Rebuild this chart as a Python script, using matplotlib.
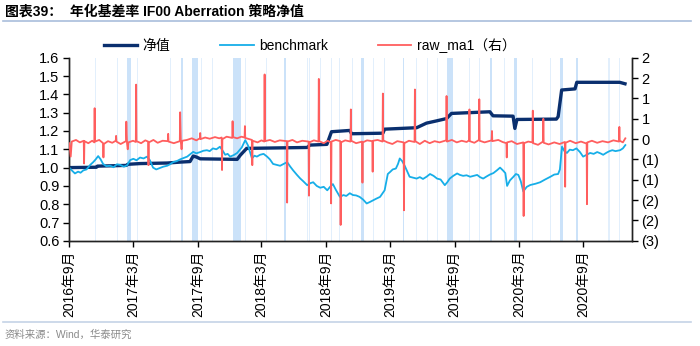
import matplotlib
matplotlib.use("Agg")
import matplotlib.pyplot as plt
import matplotlib.dates as mdates
from matplotlib.ticker import FuncFormatter, FixedLocator
import pandas as pd
import numpy as np

CJK = ['Liberation Sans', 'Noto Sans CJK SC']
plt.rcParams['font.family'] = CJK

title_text = "图表39：  年化基差率 IF00 Aberration 策略净值"
source_text = "资料来源：Wind，华泰研究"
series_names = ["净值", "benchmark", "raw_ma1（右）"]

# 净值 (left axis)
navy_dates = ['2016-09-01', '2016-11-17', '2016-11-20', '2017-02-10', '2017-02-14', '2017-03-21',
              '2017-06-06', '2017-07-13', '2017-08-10', '2017-08-19', '2017-08-28', '2017-09-08',
              '2017-12-22', '2017-12-31', '2018-01-18', '2018-07-09', '2018-07-17', '2018-09-03',
              '2018-09-16', '2018-11-07', '2018-11-12', '2019-02-09', '2019-02-14', '2019-05-16',
              '2019-06-13', '2019-07-11', '2019-08-09', '2019-08-23', '2019-12-10', '2019-12-19',
              '2020-02-14', '2020-02-19', '2020-02-25', '2020-06-16', '2020-06-21', '2020-07-01',
              '2020-08-08', '2020-08-13', '2020-12-13', '2020-12-28']
navy_values = [1.000, 1.002, 1.008, 1.012, 1.018, 1.022,
               1.025, 1.030, 1.033, 1.063, 1.058, 1.048,
               1.045, 1.068, 1.105, 1.110, 1.123, 1.127,
               1.196, 1.203, 1.185, 1.188, 1.210, 1.218,
               1.243, 1.255, 1.268, 1.296, 1.305, 1.283,
               1.281, 1.214, 1.263, 1.265, 1.278, 1.424,
               1.430, 1.466, 1.466, 1.458]

# benchmark (left axis)
bench_dates = ['2016-09-01', '2016-09-08', '2016-09-17', '2016-09-26', '2016-10-03', '2016-10-11', '2016-10-20',
               '2016-10-30', '2016-11-08', '2016-11-15', '2016-11-22', '2016-11-29', '2016-12-06', '2016-12-15',
               '2016-12-26', '2017-01-05', '2017-01-14', '2017-01-23', '2017-02-03', '2017-02-12', '2017-02-21',
               '2017-03-02', '2017-03-11', '2017-03-21', '2017-03-31', '2017-04-10', '2017-04-18', '2017-04-27',
               '2017-05-06', '2017-05-17', '2017-05-26', '2017-06-06', '2017-06-14', '2017-06-23', '2017-07-03',
               '2017-07-13', '2017-07-22', '2017-08-02', '2017-08-10', '2017-08-19', '2017-08-28', '2017-09-08',
               '2017-09-17', '2017-09-27', '2017-10-05', '2017-10-14', '2017-10-24', '2017-11-03', '2017-11-10',
               '2017-11-18', '2017-11-25', '2017-12-02', '2017-12-12', '2017-12-22', '2018-01-04', '2018-01-14',
               '2018-01-22', '2018-02-02', '2018-02-09', '2018-02-16', '2018-02-25', '2018-03-07', '2018-03-17',
               '2018-03-25', '2018-04-03', '2018-04-13', '2018-04-23', '2018-05-03', '2018-05-13', '2018-05-22',
               '2018-05-30', '2018-06-10', '2018-06-19', '2018-06-28', '2018-07-09', '2018-07-18', '2018-07-26',
               '2018-08-05', '2018-08-15', '2018-08-25', '2018-09-04', '2018-09-12', '2018-09-20', '2018-09-28',
               '2018-10-10', '2018-10-20', '2018-10-28', '2018-11-07', '2018-11-16', '2018-11-25', '2018-12-05',
               '2018-12-15', '2018-12-25', '2019-01-03', '2019-01-11', '2019-01-21', '2019-02-01', '2019-02-14',
               '2019-02-23', '2019-03-02', '2019-03-09', '2019-03-18', '2019-03-24', '2019-03-29', '2019-04-05',
               '2019-04-12', '2019-04-26', '2019-05-06', '2019-05-16', '2019-05-25', '2019-06-03', '2019-06-13',
               '2019-06-23', '2019-07-03', '2019-07-13', '2019-07-23', '2019-08-04', '2019-08-11', '2019-08-18',
               '2019-08-28', '2019-09-08', '2019-09-16', '2019-09-25', '2019-10-05', '2019-10-15', '2019-10-25',
               '2019-11-04', '2019-11-12', '2019-11-21', '2019-12-01', '2019-12-10', '2019-12-20', '2019-12-30',
               '2020-01-08', '2020-01-16', '2020-01-23', '2020-01-28', '2020-02-05', '2020-02-15', '2020-02-22',
               '2020-02-29', '2020-03-07', '2020-03-14', '2020-03-24', '2020-04-03', '2020-04-18', '2020-05-01',
               '2020-05-15', '2020-05-30', '2020-06-10', '2020-06-21', '2020-06-26', '2020-07-02', '2020-07-09',
               '2020-07-16', '2020-07-24', '2020-08-02', '2020-08-12', '2020-08-22', '2020-08-31', '2020-09-10',
               '2020-09-20', '2020-09-30', '2020-10-10', '2020-10-19', '2020-10-27', '2020-11-06', '2020-11-14',
               '2020-11-22', '2020-12-01', '2020-12-14', '2020-12-22', '2020-12-29']
bench_values = [1.000, 0.985, 0.968, 0.978, 0.972, 0.985, 0.990,
                1.014, 1.030, 1.045, 1.063, 1.045, 1.020, 1.008,
                1.010, 1.002, 1.018, 1.015, 1.005, 1.012, 1.041,
                1.048, 1.040, 1.055, 1.050, 1.060, 1.040, 1.000,
                0.990, 0.998, 1.005, 1.010, 1.018, 1.030, 1.035,
                1.045, 1.052, 1.060, 1.072, 1.086, 1.078, 1.085,
                1.092, 1.095, 1.090, 1.105, 1.100, 1.114, 1.095,
                1.070, 1.075, 1.060, 1.068, 1.080, 1.110, 1.150,
                1.120, 1.050, 1.065, 1.060, 1.070, 1.075, 1.060,
                1.045, 1.020, 1.015, 1.010, 1.020, 1.030, 1.005,
                0.985, 0.960, 0.941, 0.925, 0.904, 0.915, 0.920,
                0.900, 0.890, 0.895, 0.876, 0.895, 0.910, 0.880,
                0.840, 0.850, 0.845, 0.860, 0.850, 0.848, 0.840,
                0.825, 0.804, 0.812, 0.820, 0.830, 0.840, 0.876,
                0.965, 0.977, 0.990, 0.995, 1.020, 1.050, 1.035,
                1.010, 0.950, 0.945, 0.940, 0.948, 0.938, 0.950,
                0.965, 0.955, 0.940, 0.935, 0.904, 0.920, 0.940,
                0.955, 0.968, 0.960, 0.955, 0.958, 0.950, 0.955,
                0.960, 0.948, 0.940, 0.952, 0.962, 0.970, 0.985,
                1.000, 0.985, 0.970, 0.900, 0.930, 0.950, 0.965,
                0.960, 0.925, 0.870, 0.895, 0.905, 0.912, 0.920,
                0.935, 0.950, 0.962, 0.965, 0.990, 1.114, 1.090,
                1.080, 1.098, 1.095, 1.105, 1.085, 1.060, 1.070,
                1.080, 1.075, 1.085, 1.078, 1.070, 1.082, 1.090,
                1.095, 1.090, 1.095, 1.105, 1.123]

# raw_ma1 (right axis)
red_dates = ['2016-09-01', '2016-09-05', '2016-09-08', '2016-09-20', '2016-10-01', '2016-10-12', '2016-10-13', '2016-10-14',
             '2016-10-25', '2016-11-05', '2016-11-11', '2016-11-12', '2016-11-13', '2016-11-25', '2016-12-06', '2016-12-07',
             '2016-12-08', '2016-12-20', '2017-01-01', '2017-01-11', '2017-01-12', '2017-01-13', '2017-01-25', '2017-02-09',
             '2017-02-10', '2017-02-12', '2017-02-14', '2017-02-16', '2017-03-01', '2017-03-09', '2017-03-10', '2017-03-11',
             '2017-03-24', '2017-04-05', '2017-04-13', '2017-04-14', '2017-04-15', '2017-04-28', '2017-05-10', '2017-05-24',
             '2017-06-08', '2017-06-09', '2017-06-10', '2017-06-25', '2017-07-12', '2017-07-13', '2017-07-15', '2017-07-17',
             '2017-07-19', '2017-08-01', '2017-08-15', '2017-08-28', '2017-09-07', '2017-09-08', '2017-09-09', '2017-09-22',
             '2017-10-05', '2017-10-20', '2017-11-01', '2017-11-08', '2017-11-09', '2017-11-10', '2017-11-22', '2017-12-08',
             '2017-12-09', '2017-12-10', '2017-12-22', '2018-01-03', '2018-01-12', '2018-01-13', '2018-01-14', '2018-01-25',
             '2018-02-02', '2018-02-03', '2018-02-04', '2018-02-18', '2018-03-01', '2018-03-09', '2018-03-10', '2018-03-11',
             '2018-03-25', '2018-04-08', '2018-04-22', '2018-05-12', '2018-05-13', '2018-05-14', '2018-05-28', '2018-06-10',
             '2018-06-25', '2018-07-13', '2018-07-14', '2018-07-15', '2018-07-28', '2018-08-10', '2018-08-11', '2018-08-12',
             '2018-08-25', '2018-09-05', '2018-09-14', '2018-09-15', '2018-09-16', '2018-09-28', '2018-10-11', '2018-10-12',
             '2018-10-13', '2018-10-25', '2018-11-09', '2018-11-10', '2018-11-11', '2018-11-25', '2018-12-12', '2018-12-13',
             '2018-12-14', '2018-12-26', '2019-01-10', '2019-01-11', '2019-01-12', '2019-01-25', '2019-02-08', '2019-02-09',
             '2019-02-10', '2019-02-22', '2019-03-08', '2019-03-22', '2019-04-09', '2019-04-10', '2019-04-11', '2019-04-24',
             '2019-05-10', '2019-05-11', '2019-05-12', '2019-05-25', '2019-06-08', '2019-06-22', '2019-07-06', '2019-07-20',
             '2019-08-08', '2019-08-09', '2019-08-10', '2019-08-24', '2019-09-07', '2019-09-21', '2019-10-05', '2019-10-12',
             '2019-10-13', '2019-10-14', '2019-10-27', '2019-11-09', '2019-11-10', '2019-11-11', '2019-11-25', '2019-12-15',
             '2019-12-16', '2019-12-17', '2020-01-03', '2020-01-15', '2020-01-26', '2020-01-27', '2020-01-28', '2020-02-10',
             '2020-02-25', '2020-03-14', '2020-03-15', '2020-03-16', '2020-03-28', '2020-04-09', '2020-04-10', '2020-04-11',
             '2020-04-25', '2020-05-09', '2020-05-10', '2020-05-11', '2020-05-25', '2020-06-10', '2020-06-25', '2020-07-10',
             '2020-07-11', '2020-07-12', '2020-07-25', '2020-08-10', '2020-08-25', '2020-09-10', '2020-09-11', '2020-09-12',
             '2020-09-25', '2020-10-10', '2020-10-25', '2020-11-10', '2020-11-25', '2020-12-11', '2020-12-12', '2020-12-13',
             '2020-12-22', '2020-12-29']
red_values = [-0.10, -0.43, -0.06, -0.02, -0.08, -0.04, -0.60, -0.05,
              -0.10, -0.04, -0.08, 0.76, -0.06, -0.02, -0.10, -0.45,
              -0.12, -0.05, -0.09, -0.04, 0.08, -0.06, -0.12, -0.05,
              0.43, -0.10, -0.25, -0.08, -0.04, -0.07, 1.34, -0.05,
              -0.10, -0.03, -0.06, -0.64, -0.08, -0.02, -0.09, -0.04,
              -0.05, 0.13, -0.06, -0.10, -0.05, 0.66, -0.08, -0.25,
              -0.04, -0.02, 0.02, -0.03, 0.02, 0.15, 0.00, 0.04,
              0.01, 0.05, 0.02, 0.04, -0.76, 0.00, 0.06, 0.03,
              0.44, 0.05, 0.02, 0.06, 0.04, 0.32, 0.03, 0.00,
              -0.02, -0.64, -0.04, -0.08, -0.03, -0.06, 1.59, -0.05,
              -0.02, -0.07, -0.03, -0.05, -1.56, -0.06, -0.02, -0.08,
              -0.04, -0.06, -1.39, -0.08, -0.03, -0.06, 1.48, -0.05,
              -0.10, -0.04, -0.08, -1.58, -0.06, -0.02, -0.05, -2.11,
              -0.08, -0.03, -0.06, 0.73, -0.04, -0.10, -0.06, -1.07,
              -0.08, -0.03, -0.05, -0.80, -0.04, -0.02, -0.06, 1.12,
              -0.03, -0.08, -0.12, -0.05, -0.08, -1.75, -0.10, -0.04,
              -0.07, 1.22, -0.05, -0.12, -0.04, -0.10, -0.05, -0.08,
              -0.03, 1.06, -0.06, -0.02, -0.08, -0.04, -0.07, -0.03,
              0.73, -0.05, -0.09, -0.02, 0.98, -0.04, -0.08, -0.03,
              0.20, -0.05, -0.02, -0.07, -0.10, -0.45, -0.08, -0.05,
              -0.12, -0.08, -1.89, -0.10, -0.06, -0.08, 0.70, -0.10,
              -0.14, -0.06, 0.50, -0.09, -0.13, -0.08, -0.12, -0.07,
              -1.17, -0.09, -0.04, -0.10, -0.06, -0.11, -1.60, -0.08,
              -0.04, -0.09, -0.05, -0.08, -0.03, -0.06, 0.30, -0.04,
              -0.08, 0.02]

# shaded periods
band_start = ['2016-11-13', '2017-01-14', '2017-02-13', '2017-03-11', '2017-06-13', '2017-07-15',
              '2017-08-15', '2017-09-10', '2017-10-11', '2017-12-09', '2018-01-13', '2018-03-14',
              '2018-05-05', '2018-07-08', '2018-07-15', '2018-08-13', '2018-09-15', '2018-10-06',
              '2018-11-13', '2018-12-09', '2019-01-13', '2019-02-11', '2019-04-06', '2019-05-14',
              '2019-06-14', '2019-07-12', '2019-08-11', '2019-10-13', '2019-11-10', '2019-12-11',
              '2020-01-18', '2020-02-18', '2020-04-07', '2020-05-29', '2020-06-27', '2020-08-10',
              '2020-11-11', '2020-12-12']
band_end = ['2016-11-16', '2017-01-17', '2017-02-23', '2017-03-14', '2017-06-16', '2017-07-20',
            '2017-09-03', '2017-09-13', '2017-10-14', '2018-01-02', '2018-01-16', '2018-03-17',
            '2018-05-11', '2018-07-11', '2018-07-18', '2018-08-16', '2018-09-18', '2018-10-09',
            '2018-11-16', '2018-12-16', '2019-01-16', '2019-02-14', '2019-04-11', '2019-05-17',
            '2019-06-17', '2019-07-15', '2019-08-27', '2019-10-16', '2019-11-13', '2019-12-17',
            '2020-01-21', '2020-02-25', '2020-04-10', '2020-06-01', '2020-07-06', '2020-08-17',
            '2020-11-14', '2020-12-15']

x_start = '2016-09-01'
x_end = '2021-01-16'

fig = plt.figure(figsize=(7.0, 3.46), dpi=100)
ax = fig.add_axes([0.099, 0.304, 0.8034, 0.529])
ax2 = ax.twinx()

for s, e in zip(band_start, band_end):
    s_t, e_t = pd.Timestamp(s), pd.Timestamp(e)
    col = '#e2effc' if (e_t - s_t).days <= 3 else '#cbe2f9'
    ax.axvspan(s_t, e_t, color=col, lw=0, zorder=0)

l1, = ax.plot(pd.to_datetime(navy_dates), navy_values, color='#0a2f6e', lw=2.4,
              solid_joinstyle='round', zorder=3)
l2, = ax.plot(pd.to_datetime(bench_dates), bench_values, color='#16aee8', lw=1.3, zorder=4)
l3, = ax2.plot(pd.to_datetime(red_dates), red_values, color='#ff5e5e', lw=1.3, zorder=5)

ax.set_ylim(0.6, 1.6)
ax.set_yticks(np.arange(0.6, 1.61, 0.1))
ax.yaxis.set_major_formatter(FuncFormatter(lambda v, p: f"{v:.1f}"))
ax2.set_ylim(-2.5, 2.0)
ax2.yaxis.set_major_locator(FixedLocator(np.arange(-2.5, 2.01, 0.5)))

def rfmt(v, p):
    n = int(abs(v) + 0.5)
    return f"({n})" if v < -1e-9 else f"{n}"
ax2.yaxis.set_major_formatter(FuncFormatter(rfmt))

ax.set_xlim(pd.Timestamp(x_start), pd.Timestamp(x_end))
ax.xaxis.set_major_locator(mdates.MonthLocator(bymonth=[3, 9]))
ax.xaxis.set_major_formatter(FuncFormatter(
    lambda v, p: f"{mdates.num2date(v).year}年{mdates.num2date(v).month}月"))
ax.tick_params(axis='x', labelrotation=90, labelsize=10, length=4, width=1, direction='out', pad=3)
ax.tick_params(axis='y', labelsize=10.5, length=4, width=1, direction='out', pad=3)
ax2.tick_params(axis='y', labelsize=10.5, length=4, width=1, direction='out', pad=3)

for a in (ax, ax2):
    a.spines['top'].set_visible(False)
    for sp in ('left', 'right', 'bottom'):
        a.spines[sp].set_color('#222222')
        a.spines[sp].set_linewidth(1.0)
ax.patch.set_visible(False)
ax2.patch.set_visible(False)

leg = fig.legend([l1, l2, l3], series_names, loc='center left',
                 bbox_to_anchor=(0.148, 0.868), ncol=3, frameon=False,
                 handlelength=2.4, handletextpad=0.4, columnspacing=3.6,
                 borderpad=0, borderaxespad=0, fontsize=10)

fig.text(0.007, 0.965, title_text, fontsize=10, fontweight='bold', va='center', ha='left')
fig.add_artist(plt.Line2D([0.004, 0.987], [0.938, 0.938], color='#a9bedb', lw=1.2))
fig.add_artist(plt.Line2D([0.004, 0.987], [0.068, 0.068], color='#c5d3e6', lw=1.2))
fig.text(0.007, 0.033, source_text, fontsize=7.5, color='#8a8a8a', va='center', ha='left')

fig.savefig('out.png', dpi=100)
